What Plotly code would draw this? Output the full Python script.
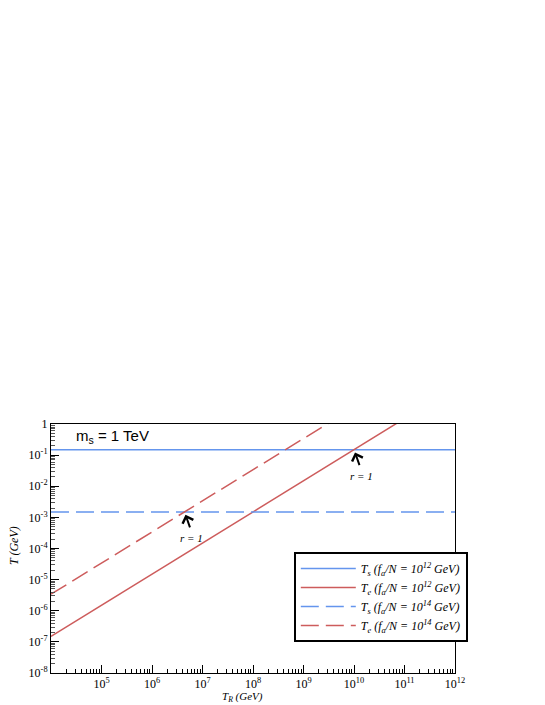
import numpy as np
import plotly.graph_objects as go

# reheating temperature (GeV), endpoints of the straight lines on the log-log plot
T_R = [1e4, 1e12]

# T_s for the two axion decay constants (flat lines)
Ts_fa12 = [0.15, 0.15]
Ts_fa14 = [1.5e-3, 1.5e-3]

# T_e grows linearly with T_R
Te_fa12 = [1.5e-7, 1.5e1]
Te_fa14 = [3.4e-6, 3.4e2]

# r = 1 crossing points (T_R, T)
cross_12 = (1e10, 0.15)
cross_14 = (4.4e6, 1.5e-3)

x_tickvals = [1e5, 1e6, 1e7, 1e8, 1e9, 1e10, 1e11, 1e12]
x_ticktext = ["10<sup>5</sup>", "10<sup>6</sup>", "10<sup>7</sup>", "10<sup>8</sup>",
              "10<sup>9</sup>", "10<sup>10</sup>", "10<sup>11</sup>", "10<sup>12</sup>"]
y_tickvals = [1, 1e-1, 1e-2, 1e-3, 1e-4, 1e-5, 1e-6, 1e-7, 1e-8]
y_ticktext = ["1", "10<sup>-1</sup>", "10<sup>-2</sup>", "10<sup>-3</sup>", "10<sup>-4</sup>",
              "10<sup>-5</sup>", "10<sup>-6</sup>", "10<sup>-7</sup>", "10<sup>-8</sup>"]

# minor ticks at 2..9 of every decade
x_minor = [k * 10.0**n for n in range(4, 12) for k in range(2, 10)]
y_minor = [k * 10.0**n for n in range(-8, 0) for k in range(2, 10)]

blue = "#6495ed"
red = "#cd5c5c"
serif = "Liberation Serif"

fig = go.Figure()
fig.add_trace(go.Scatter(x=T_R, y=Ts_fa12, mode="lines", line=dict(color=blue, width=1.5),
                         name="<i>T<sub>s</sub> (f<sub>a</sub>/N = 10<sup>12</sup> GeV)</i>"))
fig.add_trace(go.Scatter(x=T_R, y=Te_fa12, mode="lines", line=dict(color=red, width=1.5),
                         name="<i>T<sub>e</sub> (f<sub>a</sub>/N = 10<sup>12</sup> GeV)</i>"))
fig.add_trace(go.Scatter(x=T_R, y=Ts_fa14, mode="lines", line=dict(color=blue, width=1.5, dash="18px,7px"),
                         name="<i>T<sub>s</sub> (f<sub>a</sub>/N = 10<sup>14</sup> GeV)</i>"))
fig.add_trace(go.Scatter(x=T_R, y=Te_fa14, mode="lines", line=dict(color=red, width=1.5, dash="18px,7px"),
                         name="<i>T<sub>e</sub> (f<sub>a</sub>/N = 10<sup>14</sup> GeV)</i>"))

axis_common = dict(type="log", showgrid=False, zeroline=False, showline=True, linecolor="black",
                   linewidth=1, mirror=True, ticks="inside", ticklen=8, tickcolor="black",
                   tickfont=dict(family=serif, size=12, color="black"), automargin=False)

fig.update_xaxes(range=[4, 12], tickvals=x_tickvals, ticktext=x_ticktext,
                 minor=dict(tickmode="array", tickvals=x_minor, ticks="inside", ticklen=4,
                            tickcolor="black", showgrid=False), **axis_common)
fig.update_yaxes(range=[-8, 0], tickvals=y_tickvals, ticktext=y_ticktext,
                 minor=dict(tickmode="array", tickvals=y_minor, ticks="inside", ticklen=4,
                            tickcolor="#555555", showgrid=False), **axis_common)

# r = 1 arrows and labels
for (cx, cy) in [cross_12, cross_14]:
    fig.add_annotation(x=np.log10(cx), y=np.log10(cy), ax=6, ay=17, showarrow=True,
                       arrowhead=4, arrowsize=1.1, arrowwidth=2, arrowcolor="black",
                       standoff=3, text="")
    fig.add_annotation(x=np.log10(cx), y=np.log10(cy), xshift=7, yshift=-26, showarrow=False,
                       text="<i>r = 1</i>", font=dict(family=serif, size=11, color="black"))

fig.add_annotation(xref="paper", yref="paper", x=0.057, y=0.948, xanchor="left", yanchor="middle",
                   showarrow=False, text="m<sub>s</sub> = 1 TeV",
                   font=dict(family="Liberation Sans", size=15, color="black"))
fig.add_annotation(xref="paper", yref="paper", x=0.473, y=0, yshift=-24, xanchor="center",
                   yanchor="middle", showarrow=False,
                   text="<i>T<sub>R</sub> (GeV)</i>", font=dict(family=serif, size=11, color="black"))
fig.add_annotation(xref="paper", yref="paper", x=0, xshift=-37, y=0.51, xanchor="center",
                   yanchor="middle", textangle=-90, showarrow=False,
                   text="<i>T (GeV)</i>", font=dict(family=serif, size=12, color="black"))

fig.update_layout(
    width=545, height=705,
    margin=dict(l=43, r=98, t=416, b=40),
    plot_bgcolor="white", paper_bgcolor="white",
    legend=dict(x=0.601, y=0.486, xanchor="left", yanchor="top", bgcolor="white",
                bordercolor="black", borderwidth=2, itemwidth=55,
                font=dict(family=serif, size=12, color="black")),
)

fig.write_html("out.html")
